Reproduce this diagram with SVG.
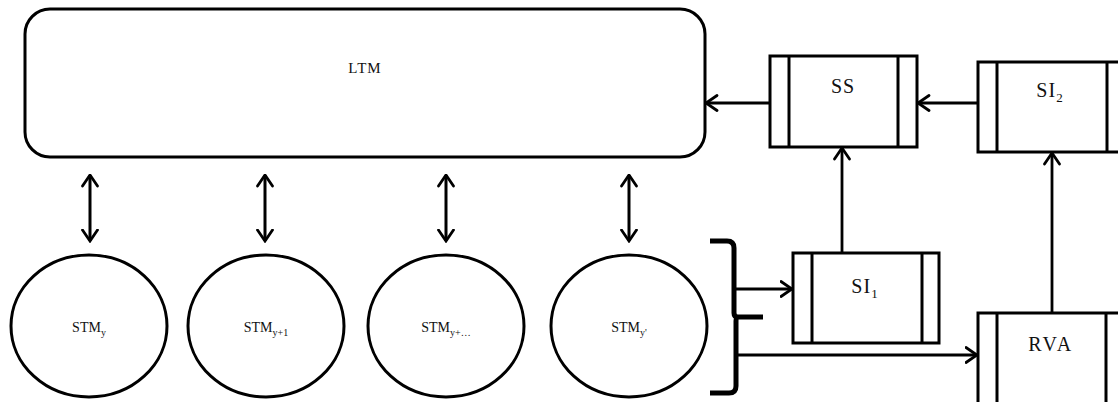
<svg xmlns="http://www.w3.org/2000/svg" width="1118" height="402" viewBox="0 0 1118 402">
  <defs>
    <marker id="head" viewBox="0 0 14 18" refX="12.5" refY="9" markerWidth="14" markerHeight="18" markerUnits="userSpaceOnUse" orient="auto-start-reverse">
      <path d="M1.5,1.5 L12.5,9 L1.5,16.5" fill="none" stroke="#000" stroke-width="2.8" stroke-linecap="round"/>
    </marker>
    <style>
      .box { fill: #fff; stroke: #000; stroke-width: 3; }
      .bar { stroke: #000; stroke-width: 3; }
      .stm { fill: #fff; stroke: #000; stroke-width: 3; }
      .link { fill: none; stroke: #000; stroke-width: 2.8; marker-end: url(#head); }
      .both { fill: none; stroke: #000; stroke-width: 3; marker-start: url(#head); marker-end: url(#head); }
      .lbl { font-family: "Liberation Serif", serif; fill: #111; text-anchor: middle; }
      .big { font-size: 20px; letter-spacing: 1px; }
      .small { font-size: 14px; }
      .sub { font-size: 10px; }
      .subbig { font-size: 13px; }
    </style>
  </defs>

  <!-- long-term memory -->
  <g id="ltm">
    <rect class="box" x="25" y="9" width="680" height="148" rx="25" ry="25"/>
    <text class="lbl small" x="365" y="73" style="font-size:15px;letter-spacing:1px">LTM</text>
  </g>

  <!-- short-term memory units -->
  <g id="stm-y">
    <ellipse class="stm" cx="89" cy="326" rx="78" ry="71"/>
    <text class="lbl small" x="89" y="332">STM<tspan class="sub" dy="4">y</tspan></text>
  </g>
  <g id="stm-y1">
    <ellipse class="stm" cx="266" cy="326" rx="78" ry="71"/>
    <text class="lbl small" x="266" y="332">STM<tspan class="sub" dy="4">y+1</tspan></text>
  </g>
  <g id="stm-yn">
    <ellipse class="stm" cx="446" cy="326" rx="78" ry="71"/>
    <text class="lbl small" x="446" y="332">STM<tspan class="sub" dy="4">y+…</tspan></text>
  </g>
  <g id="stm-yp">
    <ellipse class="stm" cx="629" cy="326" rx="78" ry="71"/>
    <text class="lbl small" x="629" y="332">STM<tspan class="sub" dy="4">y'</tspan></text>
  </g>

  <!-- brace grouping the STM units -->
  <g id="brace">
    <path d="M710,241 L727,241 Q734,241 734,248 L734,313 Q734,317 738,317 L763,317 M738,317 Q736,317 736,321 L736,386 Q736,393 729,393 L710,393" fill="none" stroke="#000" stroke-width="5" stroke-linejoin="round"/>
  </g>

  <!-- processing blocks -->
  <g id="ss">
    <rect class="box" x="770" y="56" width="147" height="91"/>
    <line class="bar" x1="789" y1="56" x2="789" y2="147"/>
    <line class="bar" x1="898" y1="56" x2="898" y2="147"/>
    <text class="lbl big" x="843" y="93">SS</text>
  </g>
  <g id="si2">
    <rect class="box" x="978" y="62" width="150" height="90"/>
    <line class="bar" x1="997" y1="62" x2="997" y2="152"/>
    <line class="bar" x1="1107" y1="62" x2="1107" y2="152"/>
    <text class="lbl big" x="1050" y="97">SI<tspan class="subbig" dy="5">2</tspan></text>
  </g>
  <g id="si1">
    <rect class="box" x="793" y="253" width="146" height="90"/>
    <line class="bar" x1="812" y1="253" x2="812" y2="343"/>
    <line class="bar" x1="922" y1="253" x2="922" y2="343"/>
    <text class="lbl big" x="865" y="293">SI<tspan class="subbig" dy="5">1</tspan></text>
  </g>
  <g id="rva">
    <rect class="box" x="978" y="313" width="150" height="100"/>
    <line class="bar" x1="997" y1="313" x2="997" y2="413"/>
    <line class="bar" x1="1106" y1="313" x2="1106" y2="413"/>
    <text class="lbl big" x="1051" y="351" style="letter-spacing:2.5px">RVA</text>
  </g>

  <!-- connectors -->
  <g id="connectors">
    <line class="both" x1="90" y1="175" x2="90" y2="241"/>
    <line class="both" x1="265" y1="175" x2="265" y2="241"/>
    <line class="both" x1="446" y1="175" x2="446" y2="241"/>
    <line class="both" x1="629" y1="175" x2="629" y2="241"/>
    <line class="link" x1="770" y1="103" x2="706" y2="103"/>
    <line class="link" x1="978" y1="103" x2="918" y2="103"/>
    <line class="link" x1="842" y1="253" x2="842" y2="148"/>
    <line class="link" x1="1052" y1="313" x2="1052" y2="153"/>
    <line class="link" x1="736" y1="289" x2="792" y2="289"/>
    <line class="link" x1="736" y1="355" x2="977" y2="355"/>
  </g>
</svg>
